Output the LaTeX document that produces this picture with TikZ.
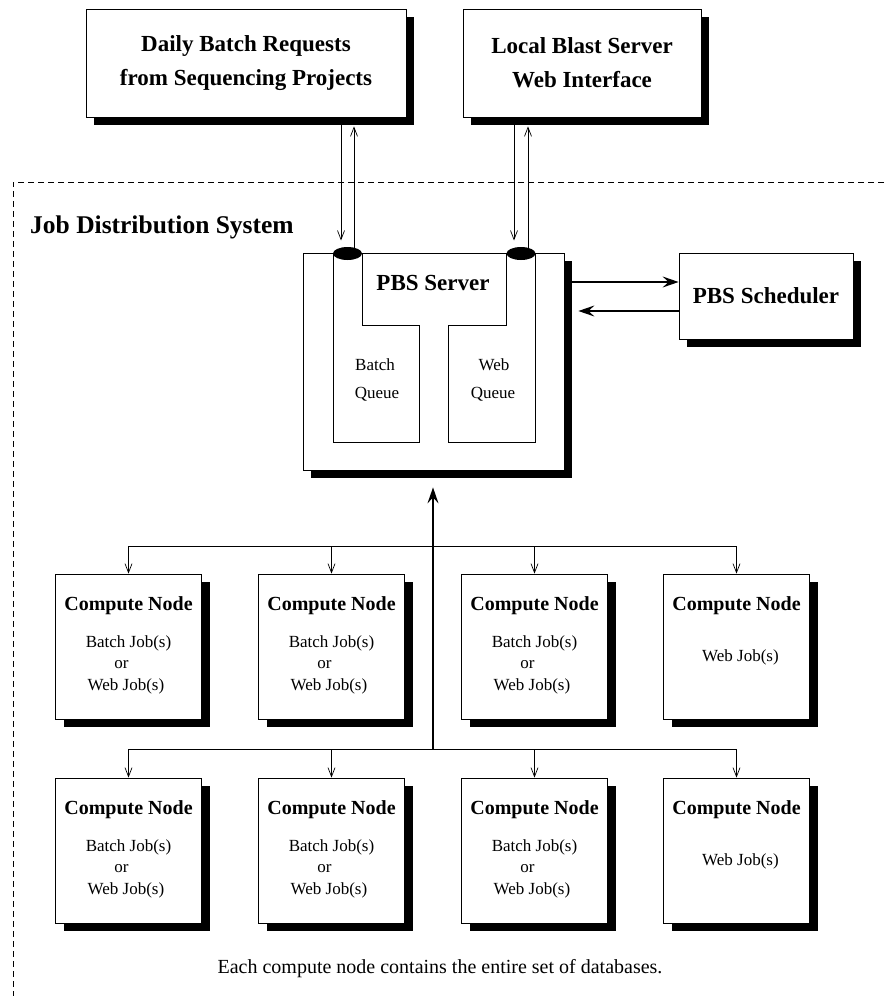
\documentclass[tikz,border=0pt]{standalone}
\usepackage{fontspec}
\setmainfont{Liberation Serif}
\usetikzlibrary{arrows.meta,shadows,calc,shapes.geometric}
\begin{document}
\begin{tikzpicture}[x=1pt,y=-1pt,
  box/.style={draw,line width=0.8pt,fill=white,inner sep=0pt,
     drop shadow={shadow xshift=8pt,shadow yshift=-8pt,fill=black,opacity=1}},
  thinarrow/.style={-{Straight Barb[length=9pt,width=7pt]},line width=0.7pt},
  boldarrow/.style={-{Stealth[length=16pt,width=11pt,inset=6pt]},line width=1.3pt},
  ttl/.style={font=\fontsize{23}{34}\selectfont\bfseries,align=center},
  cn/.style={font=\fontsize{20}{24}\selectfont\bfseries,anchor=base,inner sep=0pt},
  jb/.style={font=\fontsize{17}{20}\selectfont,anchor=base,inner sep=0pt},
  cyl/.style={ellipse,fill=black,inner sep=0pt,minimum width=29pt,minimum height=13pt},
  frame/.style={dash pattern=on 6pt off 4pt,line width=0.7pt},
  line/.style={line width=0.8pt}
]
\useasboundingbox (0,0) rectangle (884,996);

% dashed system frame
\draw[frame] (884,182) -- (13,182) -- (13,996);
\node[font=\fontsize{25.5}{30}\selectfont\bfseries,anchor=base west,inner sep=0pt] (jds) at (30,233) {Job Distribution System};

% top boxes
\node[box,ttl,minimum width=320pt,minimum height=108pt] (req) at (246,63) {Daily Batch Requests\\from Sequencing Projects};
\node[box,ttl,minimum width=238pt,minimum height=108pt] (wif) at (582,63) {Local Blast Server\\Web Interface};

% PBS server
\node[box,minimum width=261pt,minimum height=217pt] (server) at (433.5,361.5) {};
\node[font=\fontsize{23}{28}\selectfont\bfseries,anchor=base,inner sep=0pt] (pbs) at (433,290) {PBS Server};
\draw[line] (333,253) -- (333,442) -- (419,442) -- (419,325) -- (362,325) -- (362,253);
\draw[line] (535,253) -- (535,442) -- (448,442) -- (448,325) -- (506,325) -- (506,253);
\node[jb] (bq1) at (375,370) {Batch};
\node[jb] (bq2) at (377,398) {Queue};
\node[jb] (wq1) at (494,370) {Web};
\node[jb] (wq2) at (493,398) {Queue};

% arrows between top boxes and queues
\coordinate (d1) at (341,0); \coordinate (u1) at (354,0);
\coordinate (d2) at (514,0); \coordinate (u2) at (528,0);
\coordinate (cb) at (347.5,253.5); \coordinate (cw) at (521,253.5);
\draw[thinarrow] (req.south -| d1) -- ($(cb -| d1)+(0,-13)$);
\draw[thinarrow] ($(cb -| u1)+(0,-4)$) -- ($(req.south -| u1)+(0,9)$);
\draw[thinarrow] (wif.south -| d2) -- ($(cw -| d2)+(0,-13)$);
\draw[thinarrow] ($(cw -| u2)+(0,-4)$) -- ($(wif.south -| u2)+(0,9)$);
\node[cyl] (bcyl) at (cb) {};
\node[cyl] (wcyl) at (cw) {};

% scheduler
\node[box,font=\fontsize{23}{28}\selectfont\bfseries,minimum width=174pt,minimum height=86pt] (sched) at (766,296) {PBS Scheduler};
\coordinate (s1) at (0,282); \coordinate (s2) at (0,311);
\draw[boldarrow] ($(server.east |- s1)+(8,0)$) -- (sched.west |- s1);
\draw[boldarrow] (sched.west |- s2) -- ($(server.east |- s2)+(14,0)$);

% compute nodes
\foreach \i/\x/\y in {1/128.5/646.5,2/331.5/646.5,3/534.5/646.5,4/736.5/646.5,
                      5/128.5/850.5,6/331.5/850.5,7/534.5/850.5,8/736.5/850.5}{
  \node[box,minimum width=146pt,minimum height=145pt] (n\i) at (\x,\y) {};
  \node[cn] (cn\i) at ($(n\i.north)+(0,37)$) {Compute Node};
}
\foreach \i in {1,2,3,5,6,7}{
  \node[jb] (bj\i) at ($(n\i.north)+(0,74)$) {Batch Job(s)};
  \node[jb] (or\i) at ($(n\i.north)+(-7,95)$) {or};
  \node[jb] (wj\i) at ($(n\i.north)+(-2.5,117)$) {Web Job(s)};
}
\foreach \i in {4,8}{
  \node[jb] (wj\i) at ($(n\i.north)+(4,88)$) {Web Job(s)};
}

% buses
\coordinate (bus1) at (433,546);
\coordinate (bus2) at (433,749);
\draw[line] (n1.north |- bus1) -- (n4.north |- bus1);
\draw[line] (n5.north |- bus2) -- (n8.north |- bus2);
\foreach \i in {1,2,3,4}{\draw[thinarrow] (n\i.north |- bus1) -- (n\i.north);}
\foreach \i in {5,6,7,8}{\draw[thinarrow] (n\i.north |- bus2) -- (n\i.north);}
\draw[boldarrow] (bus2) -- ($(server.south -| bus2)+(0,17)$);

% caption
\node[font=\fontsize{20}{24}\selectfont,anchor=base,inner sep=0pt] (cap) at (440,973) {Each compute node contains the entire set of databases.};
\end{tikzpicture}
\end{document}
